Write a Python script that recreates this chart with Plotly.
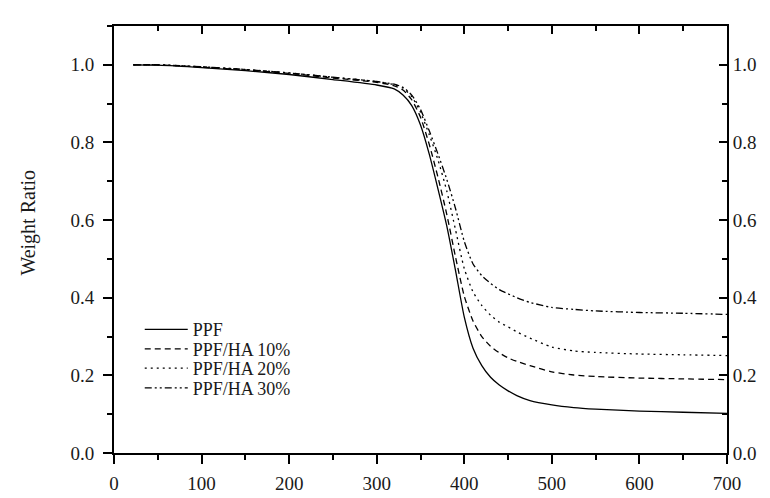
import plotly.graph_objects as go

temperature = [22, 50, 100, 150, 200, 250, 300, 320, 330, 340, 350, 360, 370, 380, 390,
               400, 410, 420, 430, 440, 450, 460, 475, 500, 525, 550, 600, 650, 700]

ppf = [1.000, 0.999, 0.993, 0.985, 0.975, 0.962, 0.948, 0.938, 0.922, 0.895, 0.845, 0.770,
       0.680, 0.585, 0.470, 0.350, 0.270, 0.225, 0.195, 0.175, 0.160, 0.148, 0.135, 0.124,
       0.117, 0.113, 0.108, 0.105, 0.102]
ppf_ha10 = [1.000, 1.000, 0.994, 0.987, 0.978, 0.966, 0.955, 0.946, 0.935, 0.910, 0.865, 0.795,
            0.710, 0.615, 0.505, 0.404, 0.340, 0.300, 0.275, 0.258, 0.245, 0.236, 0.225, 0.209,
            0.201, 0.197, 0.193, 0.191, 0.189]
ppf_ha20 = [1.000, 1.000, 0.995, 0.988, 0.979, 0.968, 0.957, 0.949, 0.940, 0.918, 0.878, 0.820,
            0.755, 0.675, 0.575, 0.475, 0.415, 0.380, 0.355, 0.337, 0.325, 0.312, 0.296, 0.273,
            0.263, 0.259, 0.255, 0.253, 0.251]
ppf_ha30 = [1.000, 1.000, 0.995, 0.988, 0.979, 0.968, 0.957, 0.950, 0.942, 0.922, 0.885, 0.830,
            0.770, 0.705, 0.630, 0.545, 0.487, 0.457, 0.437, 0.421, 0.410, 0.400, 0.388, 0.375,
            0.370, 0.366, 0.362, 0.360, 0.357]

series_names = ["PPF", "PPF/HA 10%", "PPF/HA 20%", "PPF/HA 30%"]
series_values = [ppf, ppf_ha10, ppf_ha20, ppf_ha30]
dashes = ["solid", "6px,4px", "2px,4px", "7px,3px,2px,3px,2px,3px"]
legend_ids = ["legend", "legend2", "legend3", "legend4"]

x_ticks = [0, 100, 200, 300, 400, 500, 600, 700]
y_ticks = [0.0, 0.2, 0.4, 0.6, 0.8, 1.0]

FONT = "Liberation Serif, Times New Roman, serif"
TXT = "#1a1a1a"

fig = go.Figure()
for name, vals, d, lg in zip(series_names, series_values, dashes, legend_ids):
    fig.add_trace(go.Scatter(x=temperature, y=vals, name=name, mode="lines", legend=lg,
                             line=dict(color="black", width=1.3, dash=d, shape="spline",
                                       smoothing=0.6)))

# invisible trace to activate mirrored axes
fig.add_trace(go.Scatter(x=temperature, y=ppf, xaxis="x2", yaxis="y2", mode="lines",
                         line=dict(width=0, color="rgba(0,0,0,0)"), showlegend=False,
                         hoverinfo="skip"))

axis_common = dict(showgrid=False, zeroline=False, showline=True, linecolor="black",
                   linewidth=2, tickcolor="black", tickwidth=1.5,
                   tickfont=dict(family=FONT, size=19, color=TXT))

legend_common = dict(xanchor="left", yanchor="middle", bgcolor="rgba(0,0,0,0)",
                     font=dict(family=FONT, size=18, color=TXT), itemwidth=43,
                     borderwidth=0)
row_y = [0.289, 0.243, 0.198, 0.152]
legend_x = 0.042

fig.update_layout(
    width=770, height=498,
    margin=dict(l=106, r=51, t=18, b=43),
    paper_bgcolor="white", plot_bgcolor="white",
    font=dict(family=FONT, color=TXT),
    xaxis=dict(range=[0, 700], tickvals=x_ticks, ticks="outside", ticklen=9,
               ticklabelstandoff=3,
               minor=dict(dtick=50, ticks="outside", ticklen=5, tickcolor="black", tickwidth=1.5),
               **axis_common),
    xaxis2=dict(range=[0, 700], overlaying="x", side="top", tickvals=x_ticks,
                ticks="inside", ticklen=8, showticklabels=False,
                minor=dict(dtick=50, ticks="inside", ticklen=5, tickcolor="black", tickwidth=1.5),
                **axis_common),
    yaxis=dict(range=[0, 1.1], tickvals=y_ticks, tickformat=".1f", ticks="outside", ticklen=9,
               ticklabelstandoff=5,
               minor=dict(dtick=0.1, ticks="outside", ticklen=5, tickcolor="black", tickwidth=1.5),
               **axis_common),
    yaxis2=dict(range=[0, 1.1], overlaying="y", side="right", tickvals=y_ticks, tickformat=".1f",
                ticks="inside", ticklen=8, showticklabels=True,
                minor=dict(dtick=0.1, ticks="inside", ticklen=5, tickcolor="black", tickwidth=1.5),
                **axis_common),
    legend=dict(x=legend_x, y=row_y[0], **legend_common),
    legend2=dict(x=legend_x, y=row_y[1], **legend_common),
    legend3=dict(x=legend_x, y=row_y[2], **legend_common),
    legend4=dict(x=legend_x, y=row_y[3], **legend_common),
    showlegend=True,
    annotations=[dict(text="Weight Ratio", textangle=-90, xref="paper", yref="paper",
                      x=-0.14, y=0.54, xanchor="center", yanchor="middle", showarrow=False,
                      font=dict(family=FONT, size=20, color=TXT))],
)

fig.write_html("out.html")
